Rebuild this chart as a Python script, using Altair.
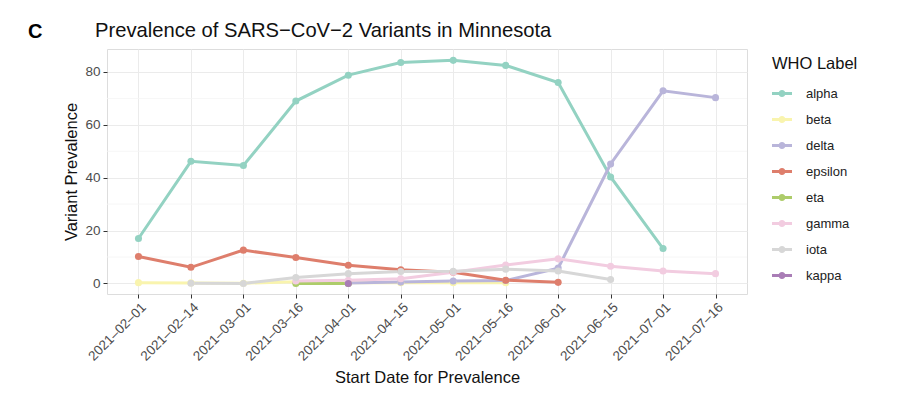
import altair as alt
import pandas as pd

dates = ["2021-02-01", "2021-02-14", "2021-03-01", "2021-03-16", "2021-04-01", "2021-04-15",
         "2021-05-01", "2021-05-16", "2021-06-01", "2021-06-15", "2021-07-01", "2021-07-16"]

alpha = [17.0, 46.2, 44.6, 69.0, 78.8, 83.6, 84.4, 82.5, 76.0, 40.3, 13.2, None]
beta = [0.3, 0.2, 0.1, 0.6, 0.3, 0.3, 0.3, 0.3, None, None, None, None]
delta = [None, None, None, None, 0.2, 0.5, 0.9, 1.1, 5.8, 45.2, 72.9, 70.3]
epsilon = [10.2, 6.1, 12.6, 9.8, 6.9, 5.2, 4.2, 1.2, 0.4, None, None, None]
eta = [None, None, None, 0.0, 0.0, None, None, None, None, None, None, None]
gamma = [None, None, None, 0.9, 1.2, 1.8, 4.2, 7.0, 9.3, 6.5, 4.7, 3.7]
iota = [None, 0.1, 0.0, 2.2, 3.7, 4.5, 4.6, 5.4, 4.7, 1.5, None, None]
kappa = [None, None, None, None, 0.0, None, None, None, None, None, None, None]

labels = ["alpha", "beta", "delta", "epsilon", "eta", "gamma", "iota", "kappa"]
colors = ["#93D2C2", "#F9F4AE", "#B9B5DA", "#DE7E6C", "#ADCC6A", "#F2CCE0", "#D7D7D7", "#A97DB6"]
minor_grid = [10, 30, 50, 70]

series = dict(zip(labels, [alpha, beta, delta, epsilon, eta, gamma, iota, kappa]))
rows = []
for lab, vals in series.items():
    for d, v in zip(dates, vals):
        if v is not None:
            rows.append({"date": d, "label": lab, "value": v})
df = pd.DataFrame(rows)

FONT = "Liberation Sans"
yscale = alt.Scale(domain=[-4.0, 88.7], nice=False, zero=False)
xscale = alt.Scale(domain=dates, padding=0.6)
cscale = alt.Scale(domain=labels, range=colors)

legend_symbol = ("M-1,-0.15L-0.3,-0.15L-0.3,0.15L-1,0.15Z"
                 "M0.3,-0.15L1,-0.15L1,0.15L0.3,0.15Z"
                 "M0.35,0A0.35,0.35 0 1,1 -0.35,0A0.35,0.35 0 1,1 0.35,0Z")

legend = alt.Legend(
    title="WHO Label", orient="none", legendX=665, legendY=7,
    symbolType=legend_symbol, symbolSize=400, symbolStrokeWidth=0, symbolOpacity=1,
    titleFontSize=16.5, titleFontWeight="normal", titleColor="#111",
    titleFont=FONT, titlePadding=11,
    labelFontSize=13, labelFont=FONT, labelColor="#222",
    rowPadding=9, labelOffset=14,
)

grid_minor = alt.Chart(pd.DataFrame({"v": minor_grid})).mark_rule(
    color="#F4F4F4", strokeWidth=0.8
).encode(y=alt.Y("v:Q", scale=yscale))

x = alt.X("date:O", scale=xscale, sort=dates,
          axis=alt.Axis(title="Start Date for Prevalence", labelAngle=-45, labelAlign="right",
                        labelBaseline="top", labelFontSize=13.5, labelColor="#4D4D4D",
                        labelFont=FONT, titleFont=FONT,
                        titleFontSize=16.5, titleFontWeight="normal", titleColor="#111",
                        gridColor="#EBEBEB", grid=True, domain=False, tickColor="#333",
                        tickSize=4, labelPadding=2, titlePadding=7,
                        labelExpr="replace(datum.label, /-/g, '–')"))
y = alt.Y("value:Q", scale=yscale,
          axis=alt.Axis(title="Variant Prevalence", values=[0, 20, 40, 60, 80],
                        labelFontSize=13.5, labelColor="#4D4D4D", labelFont=FONT,
                        titleFont=FONT, titleFontSize=16.5, titleFontWeight="normal",
                        titleColor="#111", gridColor="#EBEBEB", domain=False, tickColor="#333",
                        tickSize=4, labelPadding=3, titlePadding=5))

points_enc = dict(x=alt.X("date:O", scale=xscale, sort=dates),
                  y=alt.Y("value:Q", scale=yscale),
                  color=alt.Color("label:N", scale=cscale, legend=legend))

points = alt.Chart(df).mark_point(filled=True, size=50, opacity=1).encode(**points_enc)
lines = alt.Chart(df).mark_line(strokeWidth=3).encode(
    x=x, y=y, color=alt.Color("label:N", scale=cscale, legend=legend))

panel_label = alt.Chart(pd.DataFrame({"t": ["C"]})).mark_text(
    fontSize=20, fontWeight="bold", font=FONT, align="left", baseline="alphabetic",
    color="#000"
).encode(text="t:N", x=alt.value(-79), y=alt.value(-11.5))

title_text = alt.Chart(pd.DataFrame({"t": ["Prevalence of SARS−CoV−2 Variants in Minnesota"]})).mark_text(
    fontSize=20.2, font=FONT, align="left", baseline="alphabetic", color="#111"
).encode(text="t:N", x=alt.value(-12), y=alt.value(-12.5))

chart = alt.layer(grid_minor, lines, points, panel_label, title_text).properties(
    width=640, height=245,
    autosize=alt.AutoSizeParams(type="none"),
    padding={"left": 99, "top": 41, "right": 145, "bottom": 96},
).configure_view(stroke="#333", strokeWidth=1.2).configure(background="white")

chart.save("out.html", embed_options={"renderer": "svg", "actions": False})
